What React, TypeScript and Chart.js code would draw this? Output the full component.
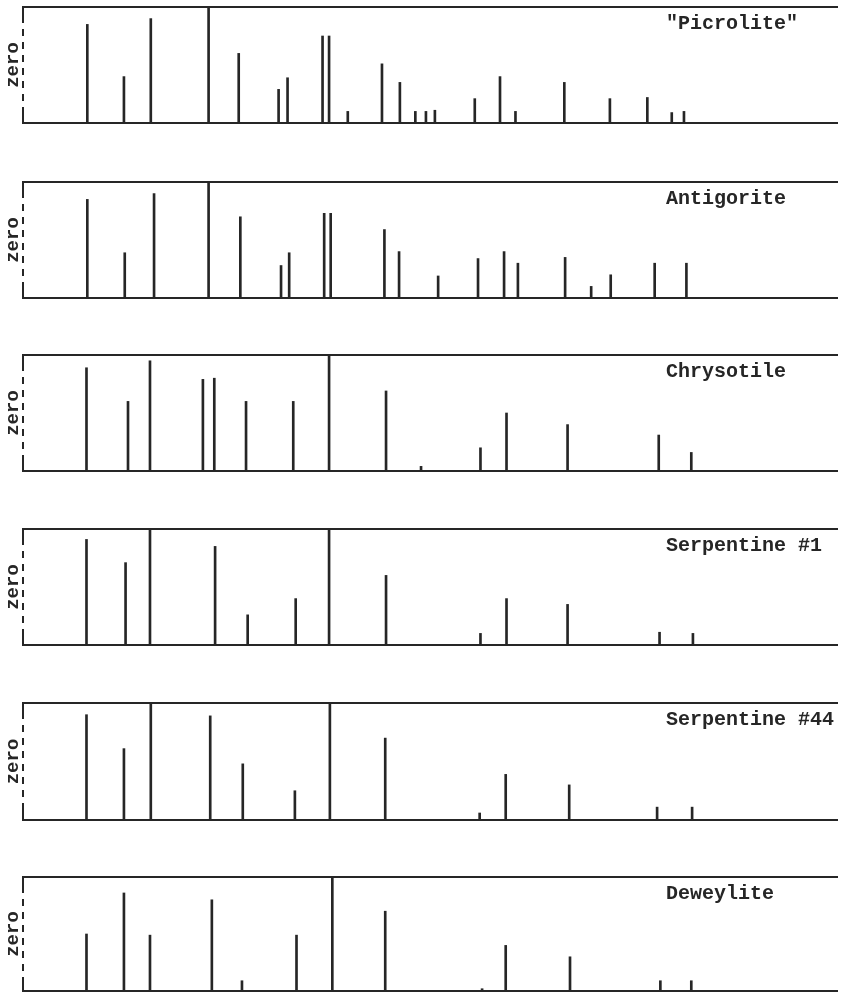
import React, { useEffect, useRef } from "react";
import { Chart, registerables } from "chart.js";

Chart.register(...registerables);

// Peak positions (relative position along the pattern, 0-100) and relative intensities (0-100, 100 = off scale)
const picrolitePos = [7.9, 12.4, 15.7, 22.8, 26.5, 31.4, 32.5, 36.8, 37.6, 39.9, 44.1, 46.3, 48.2, 49.5, 50.6, 55.5, 58.6, 60.5, 66.5, 72.1, 76.7, 79.7, 81.2];
const picroliteInt = [85, 40, 90, 100, 60, 29, 39, 75, 75, 10, 51, 35, 10, 10, 11, 21, 40, 10, 35, 21, 22, 9, 10];

const antigoritePos = [7.9, 12.5, 16.1, 22.8, 26.7, 31.7, 32.7, 37.0, 37.8, 44.4, 46.2, 51.0, 55.9, 59.1, 60.8, 66.6, 69.8, 72.2, 77.6, 81.5];
const antigoriteInt = [85, 39, 90, 100, 70, 28, 39, 73, 73, 59, 40, 19, 34, 40, 30, 35, 10, 20, 30, 30];

const chrysotilePos = [7.8, 12.9, 15.6, 22.1, 23.5, 27.4, 33.2, 37.6, 44.6, 48.9, 56.2, 59.4, 66.9, 78.1, 82.1];
const chrysotileInt = [89, 60, 95, 79, 80, 60, 60, 100, 69, 4, 20, 50, 40, 31, 16];

const serp1Pos = [7.8, 12.6, 15.6, 23.6, 27.6, 33.5, 37.6, 44.6, 56.2, 59.4, 66.9, 78.2, 82.3];
const serp1Int = [91, 71, 100, 85, 26, 40, 100, 60, 10, 40, 35, 11, 10];

const serp44Pos = [7.8, 12.4, 15.7, 23.0, 27.0, 33.4, 37.7, 44.5, 56.1, 59.3, 67.1, 77.9, 82.2];
const serp44Int = [90, 61, 100, 89, 48, 25, 100, 70, 6, 39, 30, 11, 11];

const deweylitePos = [7.8, 12.4, 15.6, 23.2, 26.9, 33.6, 38.0, 44.5, 56.4, 59.3, 67.2, 78.3, 82.1];
const deweyliteInt = [50, 86, 49, 80, 9, 49, 100, 70, 2, 40, 30, 9, 9];

const sampleNames = ['"Picrolite"', "Antigorite", "Chrysotile", "Serpentine #1", "Serpentine #44", "Deweylite"];
const yAxisTitle = "zero";

const SERIES = [
  [picrolitePos, picroliteInt],
  [antigoritePos, antigoriteInt],
  [chrysotilePos, chrysotileInt],
  [serp1Pos, serp1Int],
  [serp44Pos, serp44Int],
  [deweylitePos, deweyliteInt],
];

// layout
const W = 843;
const PANEL_TOPS = [7, 182, 355, 529, 703, 877];
const PANEL_HEIGHTS = [116, 116, 116, 116, 117, 114];
const TOP_PAD = 7;
const BOTTOM_PAD = 3;
const LEFT_W = 23;
const RIGHT_PAD = 6;
const INK = "#262626";
const FONT = "'Liberation Mono', 'DejaVu Sans Mono', monospace";
// dashed left frame: solid top bracket, short dashes, solid bottom bracket
const LEFT_DASH = [16, 6, 7, 6, 7, 6, 7, 6, 7, 6, 7, 6, 7, 6, 16, 100];

function Panel({ index }: { index: number }) {
  const ref = useRef<HTMLCanvasElement | null>(null);
  const h = PANEL_HEIGHTS[index];
  const canvasH = TOP_PAD + h + BOTTOM_PAD;
  useEffect(() => {
    if (!ref.current) return;
    const [pos, inten] = SERIES[index];
    const data = pos.map((x, i) => ({ x, y: inten[i] }));
    const chart = new Chart(ref.current, {
      type: "bar",
      data: {
        datasets: [
          {
            data: data as any,
            backgroundColor: INK,
            borderWidth: 0,
            barThickness: 2,
          },
        ],
      },
      options: {
        animation: false,
        responsive: false,
        devicePixelRatio: 1,
        layout: { padding: { left: 0, right: RIGHT_PAD, top: 0, bottom: 0 } },
        plugins: { legend: { display: false }, tooltip: { enabled: false } },
        scales: {
          x: {
            type: "linear",
            position: "bottom",
            min: 0,
            max: 100,
            offset: false,
            ticks: { display: false },
            afterBuildTicks: (s: any) => {
              s.ticks = [{ value: 0 }];
            },
            grid: {
              display: true,
              offset: false,
              drawOnChartArea: true,
              drawTicks: false,
              color: INK,
              lineWidth: 2,
            },
            border: { display: true, color: INK, width: 2, dash: LEFT_DASH },
            afterFit: (s: any) => {
              s.height = BOTTOM_PAD;
            },
          },
          x2: {
            type: "linear",
            position: "top",
            display: true,
            min: 0,
            max: 100,
            offset: false,
            ticks: { display: false },
            grid: { display: false, offset: false },
            border: { display: true, color: INK, width: 2 },
            afterFit: (s: any) => {
              s.height = TOP_PAD;
            },
          },
          y: {
            type: "linear",
            position: "left",
            min: 0,
            max: 100,
            ticks: { display: false },
            grid: { display: false },
            border: { display: false },
            title: {
              display: true,
              text: yAxisTitle,
              color: INK,
              font: { family: FONT, size: 19, weight: "bold" },
              padding: { top: 2, bottom: 0 },
            },
            afterFit: (s: any) => {
              s.width = LEFT_W;
            },
          },
        },
      } as any,
    });
    return () => chart.destroy();
  }, [index]);

  return (
    <div style={{ position: "absolute", left: 0, top: PANEL_TOPS[index] - TOP_PAD, width: W, height: canvasH }}>
      <canvas ref={ref} width={W} height={canvasH} style={{ display: "block", width: W, height: canvasH }} />
      <div
        style={{
          position: "absolute",
          left: 666,
          top: TOP_PAD + 7,
          fontFamily: FONT,
          fontWeight: "bold",
          fontSize: 20,
          lineHeight: "20px",
          color: INK,
          whiteSpace: "pre",
        }}
      >
        {sampleNames[index]}
      </div>
    </div>
  );
}

export default function App() {
  return (
    <div
      style={{
        position: "absolute",
        left: 0,
        top: 0,
        width: W,
        height: 993,
        overflow: "hidden",
        background: "#ffffff",
      }}
    >
      {sampleNames.map((_, i) => (
        <Panel key={i} index={i} />
      ))}
    </div>
  );
}
